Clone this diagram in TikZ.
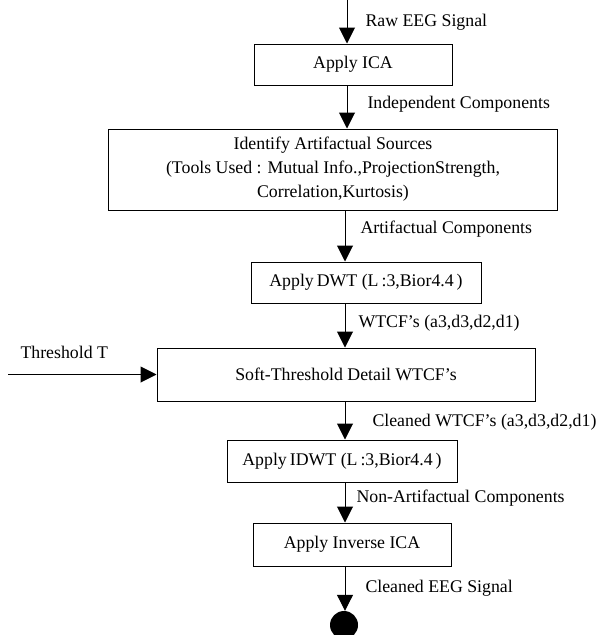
\documentclass[tikz,border=0pt]{standalone}
\usepackage{fontspec}
\setmainfont{Liberation Serif}
\usepackage{tikz}
\usetikzlibrary{arrows.meta}

\begin{document}
\begin{tikzpicture}[x=1pt,y=-1pt,
  box/.style={draw, line width=1pt, inner sep=0pt, align=center},
  flow/.style={line width=1pt, -{Triangle[width=16pt,length=16pt]}},
  lbl/.style={anchor=west, inner sep=0pt},
  font=\fontsize{17.8}{24}\selectfont]
\useasboundingbox (0,0) rectangle (601,635);
\coordinate (in) at (347,0);
\coordinate (lo) at (345,0);
\coordinate (thr) at (8,374.5);
\node[box, minimum width=198, minimum height=41] (ica) at (353,64.5) {Apply ICA};
\node[box, minimum width=449, minimum height=81] (ident) at (333,169.5) {Identify Artifactual Sources\\(Tools Used : Mutual Info.,ProjectionStrength,\\Correlation,Kurtosis)};
\node[box, minimum width=230, minimum height=41] (dwt) at (366,282.5) {Apply\,DWT (L\,:3,Bior4.4\,)};
\node[box, minimum width=378, minimum height=53] (soft) at (346,374.5) {Soft-Threshold Detail WTCF's};
\node[box, minimum width=230, minimum height=42] (idwt) at (342,461) {Apply\,IDWT (L\,:3,Bior4.4\,)};
\node[box, minimum width=198, minimum height=43] (inv) at (352,544.5) {Apply Inverse ICA};
\node[circle, fill, inner sep=0pt, minimum size=28] (stop) at (344,625) {};
\draw[flow] (in) -- node[lbl, xshift=18] {Raw EEG Signal} (ica.north -| in);
\draw[flow] (ica.south -| in) -- node[lbl, xshift=20, yshift=3] {Independent Components} (ident.north -| in);
\draw[flow] (ident.south -| lo) -- node[lbl, xshift=15, yshift=7] {Artifactual Components} (dwt.north -| lo);
\draw[flow] (dwt.south -| lo) -- node[lbl, xshift=13, yshift=2] {WTCF's (a3,d3,d2,d1)} (soft.north -| lo);
\draw[flow] (thr) -- node[lbl, pos=0, anchor=base west, xshift=12, yshift=16] {Threshold T} (soft.west);
\draw[flow] (soft.south -| lo) -- node[lbl, xshift=27, yshift=-2] {Cleaned WTCF's (a3,d3,d2,d1)} (idwt.north -| lo);
\draw[flow] (idwt.south -| lo) -- node[lbl, xshift=11, yshift=4] {Non-Artifactual Components} (inv.north -| lo);
\draw[flow] (inv.south -| lo) -- node[lbl, xshift=20] {Cleaned EEG Signal} (stop.north -| lo);
\end{tikzpicture}
\end{document}
